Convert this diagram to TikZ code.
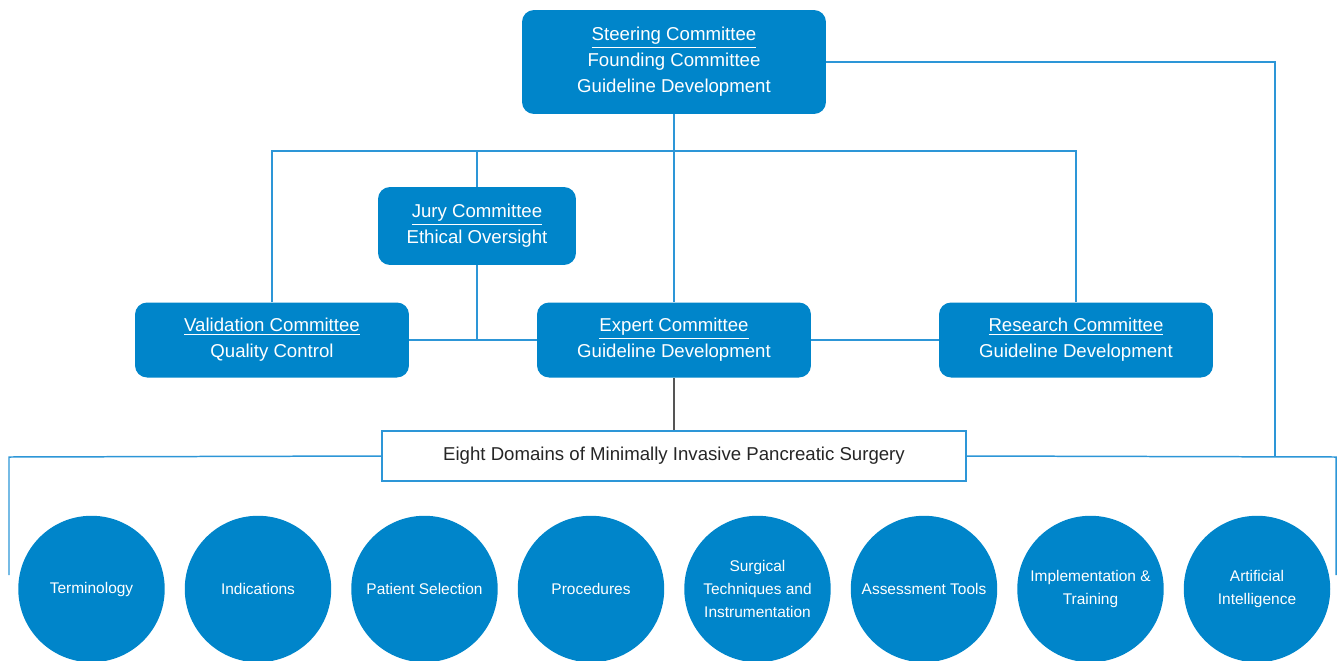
\documentclass[tikz,border=0pt]{standalone}
\usepackage{fontspec}
\setmainfont{Liberation Sans}
\usetikzlibrary{positioning, calc}
\definecolor{boxblue}{RGB}{0,133,202}
\definecolor{lineblue}{RGB}{45,150,215}
\definecolor{darkline}{RGB}{85,85,85}

\begin{document}
\begin{tikzpicture}
    [
        x=0.02cm, y=-0.02cm,
        blue_box/.style={rectangle, rounded corners=0.24cm, fill=boxblue, text=white, align=center, inner sep=0pt, font=\fontsize{10.6}{14.8}\selectfont},
        domain_box/.style={rectangle, draw=lineblue, line width=0.8pt, fill=white, text=black!85, inner sep=0pt, minimum width=11.68cm, minimum height=1.0cm, font=\fontsize{10.6}{14.8}\selectfont},
        domain_circle/.style={circle, fill=boxblue, text=white, align=center, inner sep=0pt, minimum size=2.93cm, font=\fontsize{8.8}{13.1}\selectfont},
        link/.style={draw=lineblue, line width=0.85pt},
    ]
  \useasboundingbox (0,0) rectangle (1339,660);

  \node[blue_box, minimum width=6.08cm, minimum height=2.08cm] (steer) at (674,62) {\underline{Steering Committee}\\Founding Committee\\Guideline Development};
  \node[blue_box, minimum width=3.96cm, minimum height=1.56cm] (jury) at (477,226) {\underline{Jury Committee}\\Ethical Oversight};
  \node[blue_box, minimum width=5.48cm, minimum height=1.5cm] (val) at (272,340) {\underline{Validation Committee}\\Quality Control};
  \node[blue_box, minimum width=5.48cm, minimum height=1.5cm] (exp) at (674,340) {\underline{Expert Committee}\\Guideline Development};
  \node[blue_box, minimum width=5.48cm, minimum height=1.5cm] (res) at (1076,340) {\underline{Research Committee}\\Guideline Development};
  \node[domain_box] (domains) at (674,456) {Eight Domains of Minimally Invasive Pancreatic Surgery};

  \node[domain_circle] (d1) at (91.5,589) {Terminology};
  \node[domain_circle] (d2) at (258,589) {Indications};
  \node[domain_circle] (d3) at (424.5,589) {Patient Selection};
  \node[domain_circle] (d4) at (591,589) {Procedures};
  \node[domain_circle] (d5) at (757.5,589) {Surgical\\Techniques and\\Instrumentation};
  \node[domain_circle] (d6) at (924,589) {Assessment Tools};
  \node[domain_circle] (d7) at (1090.5,589) {Implementation \&\\Training};
  \node[domain_circle] (d8) at (1257,589) {Artificial\\Intelligence};

  \coordinate (top_l) at (272,151);
  \coordinate (top_r) at (1076,151);
  \coordinate (bus_l) at (9,457);
  \coordinate (bus_r) at (1336,457);
  \coordinate (end_l) at (9,575);
  \coordinate (end_r) at (1336,575);
  \coordinate (join) at (1275,457);

  \draw[link] (val.north) -- (top_l) -- (top_r) -- (res.north);
  \draw[link] (steer.south) -- (exp.north);
  \draw[link] (jury.north) -- (jury.north |- top_l);
  \draw[link] (jury.south) -- (jury.south |- val.east);
  \draw[link] (val.east) -- (exp.west);
  \draw[link] (exp.east) -- (res.west);
  \draw[link] (steer.east) -| (join);
  \draw[link] (domains.west) -- (bus_l) -- (end_l);
  \draw[link] (domains.east) -- (bus_r) -- (end_r);
  \draw[draw=darkline, line width=0.85pt] (exp.south) -- (domains.north);
\end{tikzpicture}
\end{document}
